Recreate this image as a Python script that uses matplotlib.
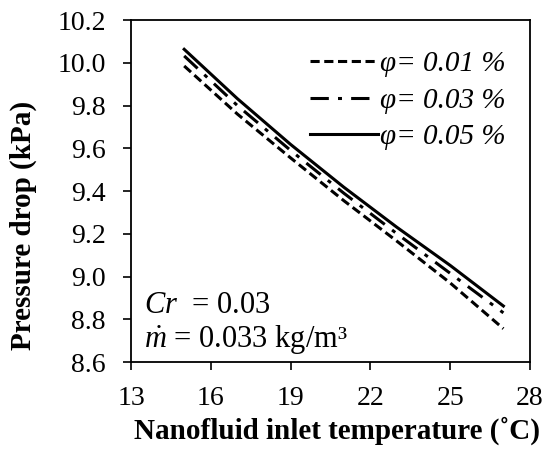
import numpy as np
import matplotlib.pyplot as plt

plt.rcParams['font.family'] = ['Liberation Serif', 'DejaVu Serif']
plt.rcParams['mathtext.fontset'] = 'custom'
plt.rcParams['mathtext.rm'] = 'Liberation Serif'
plt.rcParams['mathtext.it'] = 'Liberation Serif:italic'

# inlet temperature (C)
temp = [15, 17, 19, 21, 23, 25, 27]
# pressure drop (kPa) for each volume fraction
dp_001 = [9.985, 9.760, 9.555, 9.355, 9.165, 8.970, 8.756]
dp_003 = [10.032, 9.800, 9.590, 9.390, 9.200, 9.015, 8.830]
dp_005 = [10.063, 9.832, 9.618, 9.418, 9.230, 9.052, 8.862]
labels = ['φ= 0.01 %', 'φ= 0.03 %', 'φ= 0.05 %']
xticks = [13, 16, 19, 22, 25, 28]
yticks = [8.6, 8.8, 9.0, 9.2, 9.4, 9.6, 9.8, 10.0, 10.2]

fig = plt.figure(figsize=(5.56, 4.58), dpi=100)
ax = fig.add_axes([0.2356, 0.2096, 0.7176, 0.7467])

ax.plot(temp, dp_001, color='black', lw=2.2, linestyle=(0, (3, 1.5)), label=labels[0])
ax.plot(temp, dp_003, color='black', lw=2.2, linestyle=(0, (6, 3, 1.3, 3)), label=labels[1])
ax.plot(temp, dp_005, color='black', lw=2.2, linestyle='-', label=labels[2])

ax.set_xlim(13, 28)
ax.set_ylim(8.6, 10.2)
ax.set_xticks(xticks)
ax.set_yticks(yticks)
ax.set_yticklabels([f'{v:.1f}' for v in yticks])
ax.tick_params(direction='out', length=6, width=1.2, labelsize=20, top=False, right=False)
ax.tick_params(axis='x', pad=11)
ax.tick_params(axis='y', pad=12)
for s in ax.spines.values():
    s.set_linewidth(1.3)

ax.set_xlabel('Nanofluid inlet temperature (˚C)', fontsize=21, fontweight='bold', va='top')
ax.xaxis.set_label_coords(0.517, -0.16)
ax.set_ylabel('Pressure drop (kPa)', fontsize=21, fontweight='bold')
ax.yaxis.set_label_coords(-0.235, 0.40)

leg = ax.legend(loc='upper right', bbox_to_anchor=(0.94, 0.91), frameon=False,
                handlelength=2.33, handletextpad=0.07, labelspacing=0.35,
                borderpad=0, borderaxespad=0,
                prop={'family': 'Liberation Serif', 'style': 'italic', 'size': 21})

ax.text(0.033, 0.143, r'$Cr$  = 0.03', transform=ax.transAxes, fontsize=22, va='baseline')
ax.text(0.033, 0.044, r'$\dot{m}$ = 0.033 kg/m³', transform=ax.transAxes, fontsize=22, va='baseline')

fig.savefig('out.png', dpi=100)
